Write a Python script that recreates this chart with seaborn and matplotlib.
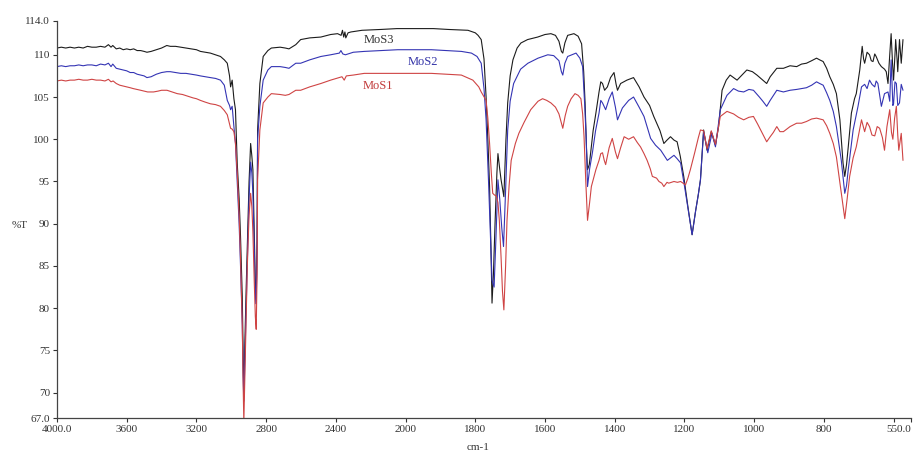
import numpy as np
import pandas as pd
import matplotlib
matplotlib.use("Agg")
import matplotlib.pyplot as plt
import seaborn as sns

sns.set_theme(style="white")
plt.rcParams['font.family'] = ['Liberation Serif', 'DejaVu Serif']

# (wavenumber cm-1, %T)
mos3 = [(4000, 110.8), (3975, 110.9), (3950, 110.8), (3925, 110.9), (3900, 110.8), (3875, 110.9),
        (3850, 110.8), (3825, 111.0), (3800, 110.9), (3775, 110.9), (3750, 111.0), (3725, 110.9),
        (3705, 111.2), (3690, 110.9), (3680, 111.1), (3660, 110.7), (3640, 110.8), (3620, 110.6),
        (3600, 110.7), (3580, 110.6), (3560, 110.7), (3540, 110.5), (3520, 110.5), (3500, 110.4),
        (3484, 110.3), (3460, 110.4), (3430, 110.6), (3400, 110.8), (3370, 111.1), (3350, 111.0),
        (3320, 111.0), (3290, 110.9), (3260, 110.8), (3230, 110.7), (3200, 110.6), (3177, 110.4),
        (3150, 110.3), (3120, 110.2), (3090, 110.0), (3062, 109.8), (3040, 109.4), (3023, 109.0),
        (3010, 107.5), (3004, 106.2), (2995, 107.0), (2985, 104.8), (2976, 103.5), (2966, 97.2),
        (2955, 93.0), (2947, 88.5), (2937, 81.4), (2932, 75.0), (2928, 69.5), (2922, 76.0),
        (2915, 82.0), (2908, 87.3), (2898, 95.0), (2889, 99.5), (2882, 98.0), (2876, 96.4),
        (2868, 89.0), (2862, 83.0), (2857, 81.0), (2852, 88.0), (2849, 101.1), (2836, 106.6),
        (2817, 109.8), (2790, 110.5), (2770, 110.8), (2720, 110.9), (2690, 110.8), (2669, 110.7),
        (2630, 111.2), (2602, 111.8), (2550, 112.0), (2486, 112.1), (2430, 112.4), (2390, 112.5),
        (2370, 112.3), (2362, 112.9), (2355, 112.1), (2348, 112.7), (2343, 112.0), (2330, 112.6),
        (2314, 112.7), (2250, 112.9), (2141, 113.0), (2050, 113.1), (1974, 113.1), (1920, 113.1),
        (1878, 113.0), (1821, 112.9), (1800, 112.6), (1792, 112.3), (1783, 111.8), (1775, 109.5),
        (1769, 105.0), (1764, 100.0), (1759, 94.4), (1755, 87.0), (1752, 80.6), (1748, 84.0),
        (1743, 90.4), (1738, 96.0), (1735, 98.3), (1730, 96.5), (1726, 95.2), (1718, 93.2),
        (1712, 100.0), (1707, 104.3), (1700, 107.5), (1692, 109.4), (1680, 110.8), (1669, 111.4),
        (1650, 111.8), (1621, 112.1), (1600, 112.4), (1583, 112.5), (1570, 112.3), (1560, 111.6),
        (1553, 110.4), (1549, 110.2), (1543, 111.4), (1535, 112.3), (1517, 112.5), (1505, 112.2),
        (1495, 111.3), (1489, 108.0), (1485, 104.3), (1481, 99.0), (1478, 96.4), (1473, 97.0),
        (1469, 98.4), (1462, 101.0), (1454, 103.1), (1445, 105.6), (1440, 106.8), (1435, 106.6),
        (1429, 105.8), (1421, 106.2), (1412, 107.3), (1402, 107.9), (1396, 106.5), (1392, 105.8),
        (1383, 106.6), (1365, 107.0), (1346, 107.3), (1330, 106.2), (1316, 105.0), (1300, 104.0),
        (1288, 102.7), (1270, 101.0), (1259, 99.5), (1250, 99.9), (1240, 100.3), (1230, 99.9),
        (1221, 99.7), (1212, 98.0), (1202, 95.6), (1190, 92.0), (1178, 88.7), (1168, 91.5),
        (1160, 93.5), (1154, 95.2), (1145, 101.1), (1135, 98.7), (1123, 100.9), (1111, 99.3),
        (1102, 101.5), (1092, 105.8), (1080, 107.0), (1069, 107.6), (1059, 107.3), (1049, 107.0),
        (1035, 107.6), (1021, 108.2), (1005, 108.0), (992, 107.6), (975, 107.0), (964, 106.6),
        (954, 107.4), (935, 108.4), (916, 108.4), (897, 108.7), (878, 108.6), (864, 108.9),
        (850, 109.0), (835, 109.3), (821, 109.6), (812, 109.4), (802, 109.2), (792, 108.4),
        (783, 107.4), (773, 106.5), (764, 105.4), (754, 102.3), (745, 97.2), (740, 95.6),
        (735, 97.0), (730, 99.1), (721, 103.1), (712, 104.8), (707, 105.4), (697, 108.2),
        (690, 111.0), (686, 109.5), (683, 109.0), (676, 110.3), (669, 110.0), (664, 109.3),
        (659, 109.2), (654, 110.1), (650, 109.8), (642, 109.0), (635, 108.6), (626, 108.3),
        (621, 108.0), (616, 106.6), (611, 110.0), (607, 112.5), (603, 109.0), (600, 107.0),
        (596, 110.0), (594, 111.8), (590, 109.5), (588, 108.0), (583, 111.8), (578, 109.0),
        (573, 111.8)]

mos2 = [(4000, 108.6), (3975, 108.7), (3950, 108.6), (3925, 108.7), (3900, 108.7), (3875, 108.8),
        (3850, 108.7), (3825, 108.8), (3800, 108.8), (3775, 108.7), (3750, 108.9), (3725, 108.8),
        (3705, 109.0), (3690, 108.6), (3680, 108.9), (3660, 108.4), (3640, 108.3), (3620, 108.2),
        (3600, 108.1), (3580, 107.9), (3560, 107.9), (3540, 107.7), (3520, 107.6), (3500, 107.5),
        (3484, 107.3), (3460, 107.4), (3430, 107.7), (3400, 107.9), (3370, 108.0), (3350, 108.0),
        (3320, 107.9), (3290, 107.8), (3260, 107.8), (3230, 107.7), (3200, 107.6), (3177, 107.5),
        (3150, 107.4), (3120, 107.3), (3090, 107.2), (3062, 107.0), (3040, 106.4), (3023, 104.6),
        (3010, 104.0), (3004, 103.5), (2995, 103.9), (2985, 101.5), (2976, 99.5), (2966, 95.0),
        (2955, 90.0), (2947, 85.0), (2937, 78.0), (2932, 72.0), (2928, 69.0), (2922, 74.0),
        (2915, 80.0), (2908, 85.5), (2898, 93.0), (2889, 97.3), (2882, 96.0), (2876, 93.5),
        (2868, 87.0), (2862, 82.0), (2857, 80.5), (2852, 87.0), (2849, 100.0), (2836, 103.9),
        (2817, 107.0), (2790, 108.2), (2770, 108.6), (2720, 108.6), (2690, 108.5), (2669, 108.4),
        (2630, 109.0), (2602, 109.0), (2550, 109.4), (2486, 109.8), (2430, 110.0), (2380, 110.2),
        (2371, 110.5), (2360, 110.1), (2345, 110.0), (2300, 110.3), (2237, 110.4), (2141, 110.5),
        (2045, 110.6), (1974, 110.6), (1926, 110.6), (1880, 110.5), (1840, 110.4), (1811, 110.2),
        (1795, 109.8), (1783, 109.0), (1775, 106.0), (1769, 102.3), (1762, 95.0), (1757, 89.0),
        (1752, 83.3), (1746, 82.5), (1741, 88.0), (1735, 95.2), (1730, 93.0), (1724, 89.5),
        (1719, 87.3), (1713, 94.0), (1707, 101.1), (1700, 104.5), (1690, 106.6), (1670, 108.3),
        (1649, 109.0), (1620, 109.6), (1592, 110.0), (1575, 109.9), (1560, 109.3), (1553, 108.0),
        (1549, 107.6), (1543, 109.0), (1535, 109.8), (1511, 110.2), (1500, 109.6), (1492, 108.6),
        (1486, 104.0), (1482, 100.3), (1478, 94.4), (1472, 96.5), (1464, 98.4), (1455, 101.0),
        (1445, 103.1), (1440, 104.6), (1435, 104.3), (1426, 103.5), (1416, 104.8), (1407, 105.6),
        (1398, 103.8), (1392, 102.3), (1378, 103.7), (1360, 104.6), (1346, 105.0), (1330, 103.8),
        (1316, 102.7), (1297, 100.1), (1283, 99.3), (1268, 98.7), (1249, 97.5), (1230, 98.1),
        (1221, 97.7), (1211, 97.2), (1200, 94.5), (1192, 92.4), (1178, 88.7), (1168, 91.5),
        (1160, 93.5), (1154, 95.2), (1145, 100.9), (1133, 98.4), (1121, 100.7), (1111, 99.1),
        (1097, 103.5), (1078, 105.2), (1059, 106.0), (1045, 105.7), (1030, 105.6), (1015, 105.9),
        (1002, 105.8), (985, 105.0), (975, 104.5), (964, 103.9), (954, 104.6), (935, 105.8),
        (916, 105.6), (897, 105.8), (878, 105.9), (864, 106.0), (850, 106.1), (835, 106.4),
        (821, 106.8), (812, 106.6), (802, 106.4), (792, 105.5), (783, 104.6), (773, 103.3),
        (764, 101.5), (750, 97.5), (740, 93.6), (735, 94.5), (730, 96.4), (716, 101.1),
        (702, 103.9), (692, 106.2), (683, 106.5), (676, 106.0), (669, 107.0), (662, 106.5),
        (654, 106.2), (650, 106.9), (645, 106.6), (635, 103.9), (626, 105.4), (616, 105.6),
        (611, 104.5), (607, 109.4), (602, 104.0), (600, 104.2), (596, 106.8), (592, 106.6),
        (588, 104.0), (583, 104.3), (578, 106.5), (573, 105.8)]

mos1 = [(4000, 106.9), (3975, 107.0), (3950, 106.9), (3925, 107.0), (3900, 107.0), (3875, 107.1),
        (3850, 107.0), (3825, 107.0), (3800, 107.1), (3775, 107.0), (3750, 107.0), (3725, 106.9),
        (3705, 107.1), (3690, 106.8), (3678, 106.9), (3660, 106.6), (3640, 106.4), (3620, 106.3),
        (3600, 106.2), (3580, 106.1), (3563, 106.0), (3540, 105.9), (3520, 105.8), (3500, 105.7),
        (3480, 105.6), (3446, 105.6), (3420, 105.7), (3400, 105.8), (3369, 105.8), (3340, 105.6),
        (3310, 105.4), (3280, 105.3), (3250, 105.1), (3220, 104.9), (3200, 104.8), (3177, 104.6),
        (3150, 104.4), (3120, 104.2), (3090, 104.1), (3062, 103.9), (3040, 103.4), (3023, 102.9),
        (3010, 101.8), (3004, 101.3), (2995, 101.2), (2985, 100.9), (2976, 99.5), (2966, 96.0),
        (2955, 91.0), (2947, 86.0), (2937, 78.0), (2932, 71.0), (2928, 66.5), (2922, 72.0),
        (2915, 79.0), (2908, 85.0), (2898, 91.0), (2889, 93.6), (2882, 92.0), (2876, 89.0),
        (2868, 83.0), (2862, 79.0), (2857, 77.5), (2852, 84.0), (2849, 95.2), (2836, 101.1),
        (2817, 104.3), (2790, 105.0), (2770, 105.4), (2720, 105.3), (2690, 105.2), (2669, 105.3),
        (2630, 105.8), (2602, 105.8), (2550, 106.2), (2486, 106.6), (2430, 107.0), (2380, 107.3),
        (2365, 107.4), (2352, 107.0), (2340, 107.5), (2300, 107.6), (2237, 107.8), (2141, 107.8),
        (2045, 107.8), (1974, 107.8), (1926, 107.8), (1880, 107.7), (1840, 107.6), (1807, 107.0),
        (1790, 106.2), (1783, 105.6), (1769, 104.6), (1764, 102.5), (1759, 99.5), (1754, 96.0),
        (1750, 93.6), (1745, 93.4), (1740, 93.3), (1735, 92.5), (1731, 90.4), (1726, 86.0),
        (1722, 82.0), (1718, 79.8), (1713, 85.0), (1709, 90.4), (1703, 94.5), (1697, 97.5),
        (1685, 99.5), (1675, 100.7), (1660, 102.0), (1641, 103.5), (1620, 104.5), (1607, 104.8),
        (1595, 104.6), (1583, 104.3), (1570, 103.8), (1560, 103.0), (1549, 101.3), (1542, 102.8),
        (1535, 103.9), (1525, 104.8), (1514, 105.4), (1505, 105.2), (1497, 104.8), (1492, 103.0),
        (1488, 100.3), (1483, 95.0), (1478, 90.4), (1472, 92.5), (1467, 94.4), (1460, 95.5),
        (1454, 96.4), (1445, 97.5), (1440, 98.3), (1435, 98.4), (1430, 97.5), (1426, 97.0),
        (1416, 99.0), (1407, 100.1), (1398, 98.5), (1392, 97.7), (1383, 99.0), (1373, 100.3),
        (1360, 100.0), (1346, 100.3), (1335, 99.6), (1326, 99.1), (1316, 98.3), (1307, 97.5),
        (1298, 96.5), (1292, 95.6), (1280, 95.4), (1273, 95.0), (1265, 94.8), (1259, 94.4),
        (1250, 94.9), (1245, 94.8), (1230, 95.0), (1220, 94.9), (1211, 95.0), (1204, 94.8),
        (1197, 94.6), (1190, 95.4), (1183, 96.4), (1170, 98.5), (1160, 100.2), (1154, 101.1),
        (1145, 101.0), (1135, 98.9), (1123, 101.0), (1111, 99.4), (1097, 102.7), (1078, 103.3),
        (1059, 103.0), (1045, 102.6), (1030, 102.3), (1015, 102.6), (1002, 102.7), (990, 101.8),
        (975, 100.6), (964, 99.7), (954, 100.3), (945, 100.8), (935, 101.5), (926, 100.9),
        (916, 100.9), (897, 101.5), (878, 101.9), (864, 101.9), (850, 102.1), (835, 102.4),
        (821, 102.5), (812, 102.4), (802, 102.3), (792, 101.6), (783, 100.7), (773, 99.5),
        (764, 97.9), (750, 93.6), (745, 92.0), (740, 90.6), (733, 93.0), (726, 95.6),
        (716, 97.8), (707, 99.1), (697, 101.2), (692, 102.3), (683, 100.9), (676, 102.0),
        (669, 101.5), (662, 100.5), (654, 100.4), (647, 101.5), (640, 101.3), (632, 100.2),
        (626, 98.7), (619, 101.5), (611, 103.5), (606, 100.8), (602, 100.0), (597, 102.5),
        (592, 103.9), (588, 100.5), (585, 98.7), (578, 100.7), (573, 97.5)]

samples = ["MoS3", "MoS2", "MoS1"]
colors = {"MoS3": "#1c1c1c", "MoS2": "#3434b4", "MoS1": "#cf4444"}
label_colors = {"MoS3": "#333333", "MoS2": "#3535a8", "MoS1": "#c23c3c"}
label_pos = {"MoS3": (2153, 111.75), "MoS2": (1951, 109.15), "MoS1": (2158, 106.3)}

xticks = [4000, 3600, 3200, 2800, 2400, 2000, 1800, 1600, 1400, 1200, 1000, 800, 600, 550]
xticklabels = ["4000.0", "3600", "3200", "2800", "2400", "2000", "1800", "1600",
               "1400", "1200", "1000", "800", "", "550.0"]
yticks = [67, 70, 75, 80, 85, 90, 95, 100, 105, 110, 114]
yticklabels = ["67.0", "70", "75", "80", "85", "90", "95", "100", "105", "110", "114.0"]

frames = []
for name, pts in zip(samples, [mos3, mos2, mos1]):
    d = pd.DataFrame(pts, columns=["wavenumber", "T"])
    d["sample"] = name
    frames.append(d)
df = pd.concat(frames, ignore_index=True)


# x axis: 4000-2000 is compressed by half, like the instrument printout
def fwd(x):
    x = np.asarray(x, dtype=float)
    return np.where(x >= 2000, (x - 2000) / 2.0, x - 2000)


def inv(u):
    u = np.asarray(u, dtype=float)
    return np.where(u >= 0, u * 2.0 + 2000, u + 2000)


fig = plt.figure(figsize=(9.13, 4.53), dpi=100)
ax = fig.add_axes([57 / 913, 35 / 453, 854 / 913, 397 / 453])
ax.set_xscale("function", functions=(fwd, inv))

sns.lineplot(data=df, x="wavenumber", y="T", hue="sample", hue_order=samples,
             palette=colors, estimator=None, sort=False, legend=False,
             linewidth=0.8, ax=ax)

for name in samples:
    x, y = label_pos[name]
    ax.text(x, y, name, color=label_colors[name], fontsize=9,
            ha="center", va="center")

ax.set_xlim(4000, 550)
ax.set_ylim(67, 114)
ax.set_xticks(xticks)
ax.set_xticklabels(xticklabels)
ax.set_yticks(yticks)
ax.set_yticklabels(yticklabels)
ax.minorticks_off()
ax.set_xlabel("")
ax.set_ylabel("")
ax.tick_params(axis="both", direction="out", length=3, width=0.8,
               colors="#333333", labelsize=8, pad=2, bottom=True, left=True)
# keep the end label inside the picture
ax.get_xticklabels()[-1].set_horizontalalignment("right")

sns.despine(ax=ax)
for side in ["left", "bottom"]:
    ax.spines[side].set_color("#444444")
    ax.spines[side].set_linewidth(0.9)

fig.text(20 / 913, 1 - 226 / 453, "%T", fontsize=8, color="#333333",
         ha="center", va="center")
fig.text(478 / 913, 1 - 447 / 453, "cm-1", fontsize=8, color="#333333",
         ha="center", va="center")

fig.savefig("out.png", dpi=100)
